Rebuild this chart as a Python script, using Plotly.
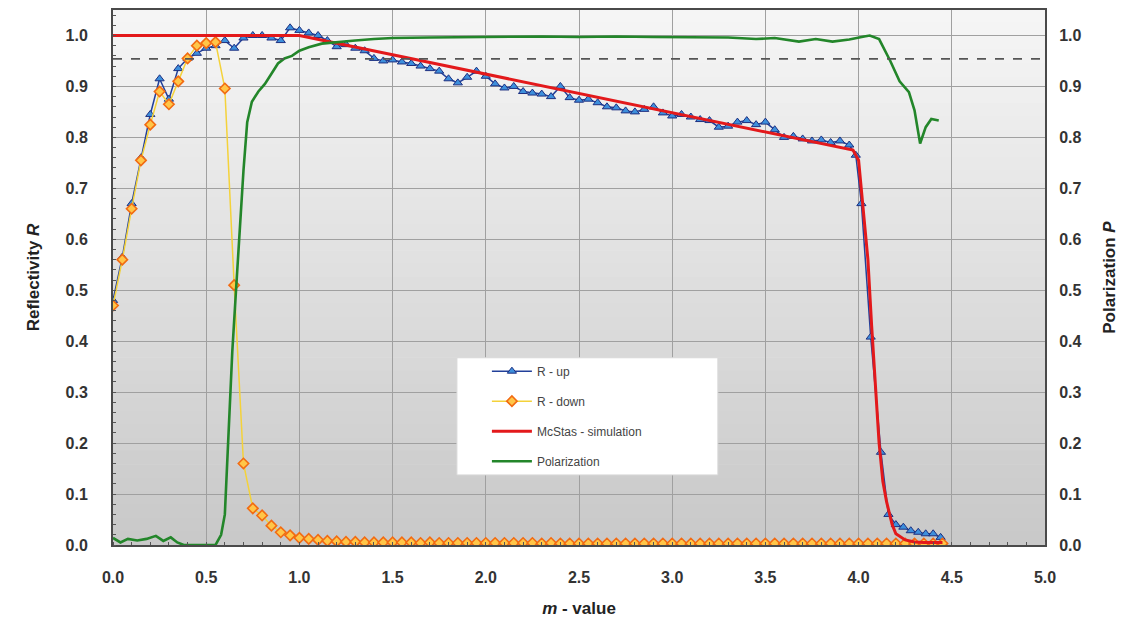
import plotly.graph_objects as go

# ---------------- data ----------------
m_up = [0.00, 0.05, 0.10, 0.15, 0.20, 0.25, 0.30, 0.35, 0.40, 0.45,
        0.50, 0.55, 0.60, 0.65, 0.70, 0.75, 0.80, 0.85, 0.90, 0.95,
        1.00, 1.05, 1.10, 1.15, 1.20, 1.25, 1.30, 1.35, 1.40, 1.45,
        1.50, 1.55, 1.60, 1.65, 1.70, 1.75, 1.80, 1.85, 1.90, 1.95,
        2.00, 2.05, 2.10, 2.15, 2.20, 2.25, 2.30, 2.35, 2.40, 2.45,
        2.50, 2.55, 2.60, 2.65, 2.70, 2.75, 2.80, 2.85, 2.90, 2.95,
        3.00, 3.05, 3.10, 3.15, 3.20, 3.25, 3.30, 3.35, 3.40, 3.45,
        3.50, 3.55, 3.60, 3.65, 3.70, 3.75, 3.80, 3.85, 3.90, 3.95,
        3.985, 4.015, 4.065, 4.12, 4.16, 4.20, 4.24, 4.28, 4.32, 4.36,
        4.40, 4.44]
r_up = [0.480, 0.565, 0.670, 0.760, 0.845, 0.915, 0.875, 0.935, 0.955, 0.965,
        0.975, 0.980, 0.990, 0.975, 0.995, 1.000, 1.000, 0.995, 0.990, 1.015,
        1.010, 1.005, 1.000, 0.990, 0.978, 0.982, 0.975, 0.970, 0.955, 0.950,
        0.952, 0.948, 0.945, 0.940, 0.935, 0.930, 0.915, 0.907, 0.918, 0.930,
        0.920, 0.905, 0.897, 0.900, 0.890, 0.887, 0.885, 0.880, 0.900, 0.878,
        0.873, 0.875, 0.868, 0.860, 0.858, 0.852, 0.850, 0.855, 0.860, 0.848,
        0.842, 0.845, 0.840, 0.835, 0.833, 0.820, 0.822, 0.830, 0.833, 0.825,
        0.830, 0.815, 0.800, 0.802, 0.797, 0.793, 0.795, 0.790, 0.793, 0.785,
        0.765, 0.670, 0.408, 0.182, 0.060, 0.040, 0.035, 0.028, 0.025, 0.022,
        0.022, 0.015]

m_down = [0.00, 0.05, 0.10, 0.15, 0.20, 0.25, 0.30, 0.35, 0.40, 0.45,
          0.50, 0.55, 0.60, 0.65, 0.70, 0.75, 0.80, 0.85, 0.90, 0.95,
          1.00, 1.05, 1.10, 1.15, 1.20, 1.25, 1.30, 1.35, 1.40, 1.45,
          1.50, 1.55, 1.60, 1.65, 1.70, 1.75, 1.80, 1.85, 1.90, 1.95,
          2.00, 2.05, 2.10, 2.15, 2.20, 2.25, 2.30, 2.35, 2.40, 2.45,
          2.50, 2.55, 2.60, 2.65, 2.70, 2.75, 2.80, 2.85, 2.90, 2.95,
          3.00, 3.05, 3.10, 3.15, 3.20, 3.25, 3.30, 3.35, 3.40, 3.45,
          3.50, 3.55, 3.60, 3.65, 3.70, 3.75, 3.80, 3.85, 3.90, 3.95,
          4.00, 4.05, 4.10, 4.15, 4.20, 4.25, 4.30, 4.35, 4.40, 4.45]
r_down = [0.470, 0.560, 0.660, 0.755, 0.825, 0.890, 0.865, 0.910, 0.955, 0.980,
          0.985, 0.987, 0.896, 0.510, 0.160, 0.072, 0.058, 0.038, 0.025, 0.019,
          0.014, 0.012, 0.010, 0.008, 0.007, 0.006, 0.006, 0.005, 0.005, 0.005,
          0.005, 0.005, 0.005, 0.004, 0.005, 0.004, 0.004, 0.004, 0.004, 0.004,
          0.004, 0.004, 0.004, 0.004, 0.004, 0.004, 0.003, 0.004, 0.003, 0.003,
          0.003, 0.003, 0.003, 0.003, 0.003, 0.003, 0.003, 0.003, 0.003, 0.003,
          0.003, 0.003, 0.003, 0.003, 0.003, 0.003, 0.003, 0.003, 0.003, 0.003,
          0.003, 0.003, 0.003, 0.003, 0.003, 0.003, 0.003, 0.003, 0.003, 0.003,
          0.003, 0.003, 0.003, 0.003, 0.003, 0.003, 0.003, 0.003, 0.003, 0.003]

m_sim = [0.00, 0.50, 1.00, 1.50, 2.00, 2.50, 3.00, 3.50, 3.90, 3.97,
         4.00, 4.02, 4.05, 4.07, 4.09, 4.11, 4.13, 4.15, 4.18, 4.20,
         4.25, 4.30, 4.35, 4.40, 4.45]
r_sim = [1.000, 1.000, 1.000, 0.962, 0.924, 0.887, 0.849, 0.811, 0.781, 0.775,
         0.755, 0.680, 0.560, 0.430, 0.310, 0.200, 0.125, 0.085, 0.040, 0.022,
         0.010, 0.006, 0.005, 0.005, 0.005]

m_pol = [0.00, 0.04, 0.08, 0.13, 0.18, 0.23, 0.27, 0.31, 0.345, 0.38,
         0.45, 0.55, 0.58, 0.60, 0.62, 0.64, 0.66, 0.68, 0.70, 0.72,
         0.745, 0.78, 0.815, 0.85, 0.885, 0.92, 0.96, 1.00, 1.05, 1.12,
         1.20, 1.30, 1.40, 1.50, 1.70, 1.90, 2.10, 2.30, 2.50, 2.70,
         2.90, 3.10, 3.30, 3.45, 3.55, 3.68, 3.77, 3.86, 3.95, 4.03,
         4.06, 4.11, 4.17, 4.22, 4.27, 4.30, 4.33, 4.36, 4.39, 4.43]
p_pol = [0.014, 0.005, 0.012, 0.009, 0.012, 0.018, 0.008, 0.015, 0.005, 0.000,
         0.000, 0.000, 0.020, 0.060, 0.220, 0.380, 0.500, 0.620, 0.735, 0.830,
         0.870, 0.890, 0.905, 0.925, 0.945, 0.955, 0.960, 0.970, 0.977, 0.984,
         0.987, 0.990, 0.993, 0.995, 0.996, 0.997, 0.997, 0.998, 0.997, 0.998,
         0.997, 0.996, 0.996, 0.993, 0.995, 0.988, 0.993, 0.988, 0.992, 0.998,
         1.000, 0.993, 0.950, 0.910, 0.889, 0.853, 0.788, 0.820, 0.836, 0.833]

dashed_level = 0.954

x_ticks = [0.0, 0.5, 1.0, 1.5, 2.0, 2.5, 3.0, 3.5, 4.0, 4.5, 5.0]
y_ticks = [0.0, 0.1, 0.2, 0.3, 0.4, 0.5, 0.6, 0.7, 0.8, 0.9, 1.0]

# ---------------- figure ----------------
FONT = "Liberation Sans, Arial, sans-serif"
fig = go.Figure()

fig.add_trace(go.Scatter(
    x=m_up, y=r_up, name="R - up", mode="lines+markers",
    line=dict(color="#22409a", width=1.5),
    marker=dict(symbol="triangle-up", size=8, color="#3d8fdc",
                line=dict(color="#1d2f80", width=1)),
    legendgroup="a"))
fig.add_trace(go.Scatter(
    x=m_down, y=r_down, name="R - down", mode="lines+markers",
    line=dict(color="#f4d23a", width=1.5),
    marker=dict(symbol="diamond", size=8, color="#ffc648",
                line=dict(color="#f26b12", width=1.6)),
    legendgroup="b"))
fig.add_trace(go.Scatter(
    x=m_sim, y=r_sim, name="McStas - simulation", mode="lines",
    line=dict(color="#e3191b", width=3), legendgroup="c"))
fig.add_trace(go.Scatter(
    x=m_pol, y=p_pol, name="Polarization", mode="lines", yaxis="y2",
    line=dict(color="#23862a", width=2.6), legendgroup="d"))

# background gradient (styling only)
n = 40
top = (246, 246, 246)
bot = (200, 200, 200)
shapes = []
for i in range(n):
    t = (i + 0.5) / n
    c = tuple(int(round(top[k] + (bot[k] - top[k]) * t)) for k in range(3))
    shapes.append(dict(type="rect", xref="x domain", yref="y domain",
                       x0=0, x1=1, y0=1 - (i + 1) / n, y1=1 - i / n + 0.001,
                       fillcolor="rgb(%d,%d,%d)" % c, line=dict(width=0),
                       layer="below"))
shapes.append(dict(type="line", xref="x domain", yref="y", x0=0, x1=1,
                   y0=dashed_level, y1=dashed_level,
                   line=dict(color="#555555", width=1.6, dash="dash"),
                   layer="above"))
# legend box
shapes.append(dict(type="rect", xref="x domain", yref="y domain",
                   x0=0.369, x1=0.649, y0=0.131, y1=0.350,
                   fillcolor="white", line=dict(color="#d8d8d8", width=1),
                   layer="above"))

TICKFONT = dict(family=FONT, size=16, color="#333333", weight="bold")
TITLEFONT = dict(family=FONT, size=17, color="#222222", weight="bold")
axis_common = dict(
    showline=True, linecolor="#4a4a4a", linewidth=2,
    gridcolor="#a0a0a0", gridwidth=1, zeroline=False, automargin=False,
    tickfont=TICKFONT, ticks="", tickformat=".1f",
)

fig.update_layout(
    width=1132, height=615,
    margin=dict(l=105, r=95, t=2, b=78),
    paper_bgcolor="white", plot_bgcolor="rgba(0,0,0,0)",
    font=dict(family=FONT, color="#333333"),
    showlegend=True,
    shapes=shapes,
    xaxis=dict(axis_common, range=[0, 5.0], tickvals=x_ticks,
               mirror=True, ticklabelstandoff=17,
               minor=dict(dtick=0.1, ticks="inside", ticklen=3,
                          tickcolor="#555555", showgrid=False),
               title=dict(text="<i>m</i> - value", standoff=17,
                          font=TITLEFONT)),
    yaxis=dict(axis_common, range=[0, 1.05], tickvals=y_ticks,
               mirror=True, ticklabelstandoff=20,
               minor=dict(dtick=0.02, ticks="inside", ticklen=3,
                          tickcolor="#555555", showgrid=False),
               title=dict(text="Reflectivity <i>R</i>", standoff=22,
                          font=TITLEFONT)),
    yaxis2=dict(axis_common, range=[0, 1.05], tickvals=y_ticks,
                overlaying="y", side="right", showgrid=False,
                ticklabelstandoff=9,
                title=dict(text="Polarization <i>P</i>", standoff=23,
                           font=TITLEFONT)),
    legend=dict(x=0.369, y=0.352, xanchor="left", yanchor="top",
                bgcolor="rgba(0,0,0,0)", borderwidth=0,
                font=dict(family=FONT, size=12, color="#444444"),
                traceorder="grouped", tracegroupgap=11, indentation=30,
                itemwidth=40),
)

fig.write_html("out.html")
